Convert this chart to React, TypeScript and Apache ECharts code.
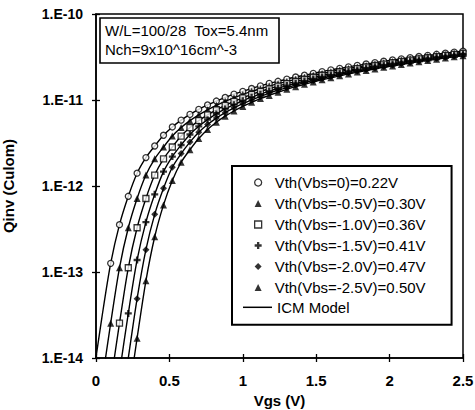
import { useEffect, useRef } from "react";
import * as echarts from "echarts";

// Inversion charge, in units of 1e-12 C
const UNIT = 1e-12;
const vgs = [-0.08, -0.02, 0.04, 0.10, 0.16, 0.22, 0.28, 0.34, 0.40, 0.46, 0.52, 0.58, 0.64, 0.70, 0.76, 0.82, 0.88, 0.94, 1.00, 1.06, 1.12, 1.18, 1.24, 1.30, 1.36, 1.42, 1.48, 1.54, 1.60, 1.66, 1.72, 1.78, 1.84, 1.90, 1.96, 2.02, 2.08, 2.14, 2.20, 2.26, 2.32, 2.38, 2.44, 2.50];
const q0 = [null, 0.0059, 0.0295, 0.126, 0.355, 0.759, 1.41, 2.14, 2.92, 3.89, 4.86, 5.83, 6.80, 7.78, 8.75, 9.72, 10.7, 11.7, 12.6, 13.6, 14.6, 15.6, 16.5, 17.5, 18.5, 19.4, 20.4, 21.4, 22.4, 23.3, 24.3, 25.3, 26.2, 27.2, 28.2, 29.2, 30.1, 31.1, 32.1, 33.0, 34.0, 35.0, 36.0, 36.9];
const q05 = [null, null, 0.0051, 0.0254, 0.112, 0.327, 0.716, 1.34, 2.07, 2.84, 3.81, 4.78, 5.75, 6.72, 7.70, 8.67, 9.64, 10.6, 11.6, 12.6, 13.5, 14.5, 15.5, 16.4, 17.4, 18.4, 19.4, 20.3, 21.3, 22.3, 23.2, 24.2, 25.2, 26.2, 27.1, 28.1, 29.1, 30.1, 31.0, 32.0, 33.0, 33.9, 34.9, 35.9];
const q10 = [null, null, null, 0.0051, 0.0254, 0.112, 0.327, 0.716, 1.34, 2.07, 2.84, 3.81, 4.78, 5.75, 6.72, 7.70, 8.67, 9.64, 10.6, 11.6, 12.6, 13.5, 14.5, 15.5, 16.4, 17.4, 18.4, 19.4, 20.3, 21.3, 22.3, 23.2, 24.2, 25.2, 26.2, 27.1, 28.1, 29.1, 30.1, 31.0, 32.0, 33.0, 33.9, 34.9];
const q15 = [null, null, null, null, 0.0067, 0.033, 0.138, 0.380, 0.80, 1.47, 2.20, 3.00, 3.97, 4.94, 5.91, 6.89, 7.86, 8.83, 9.80, 10.8, 11.7, 12.7, 13.7, 14.7, 15.6, 16.6, 17.6, 18.5, 19.5, 20.5, 21.5, 22.4, 23.4, 24.4, 25.4, 26.3, 27.3, 28.3, 29.2, 30.2, 31.2, 32.2, 33.1, 34.1];
const q20 = [null, null, null, null, 0.0020, 0.0100, 0.049, 0.182, 0.468, 0.94, 1.65, 2.38, 3.24, 4.21, 5.18, 6.16, 7.13, 8.10, 9.07, 10.0, 11.0, 12.0, 13.0, 13.9, 14.9, 15.9, 16.8, 17.8, 18.8, 19.8, 20.7, 21.7, 22.7, 23.7, 24.6, 25.6, 26.6, 27.5, 28.5, 29.5, 30.5, 31.4, 32.4, 33.4];
const q25 = [null, null, null, null, null, 0.0034, 0.017, 0.079, 0.257, 0.603, 1.16, 1.89, 2.64, 3.56, 4.54, 5.51, 6.48, 7.45, 8.42, 9.40, 10.4, 11.3, 12.3, 13.3, 14.3, 15.2, 16.2, 17.2, 18.1, 19.1, 20.1, 21.1, 22.0, 23.0, 24.0, 24.9, 25.9, 26.9, 27.9, 28.8, 29.8, 30.8, 31.8, 32.7];

const seriesNames = [
  "Vth(Vbs=0)=0.22V",
  "Vth(Vbs=-0.5V)=0.30V",
  "Vth(Vbs=-1.0V)=0.36V",
  "Vth(Vbs=-1.5V)=0.41V",
  "Vth(Vbs=-2.0V)=0.47V",
  "Vth(Vbs=-2.5V)=0.50V",
];
const modelName = "ICM Model";
const allQ = [q0, q05, q10, q15, q20, q25];
const infoLines = ["W/L=100/28  Tox=5.4nm", "Nch=9x10^16cm^-3"];

const FONT = "'Liberation Sans', Arial, sans-serif";
const PLUS = "path://M2,0H4V2H6V4H4V6H2V4H0V2H2Z";
const markerStyles = [
  { symbol: "circle", size: 6, itemStyle: { color: "#fff", borderColor: "#000", borderWidth: 1.3 } },
  { symbol: "triangle", size: 7, itemStyle: { color: "#000" } },
  { symbol: "rect", size: 6, itemStyle: { color: "#fff", borderColor: "#000", borderWidth: 1.3 } },
  { symbol: PLUS, size: 7, itemStyle: { color: "#000" } },
  { symbol: "diamond", size: 7, itemStyle: { color: "#000" } },
  { symbol: "triangle", size: 7, itemStyle: { color: "#000" } },
];

const ROW = 20.8;

export default function App() {
  const ref = useRef<HTMLDivElement>(null);
  useEffect(() => {
    if (!ref.current) return;
    const chart = echarts.init(ref.current, null, { renderer: "svg" });

    const lineSeries = allQ.map((arr) => ({
      name: modelName,
      type: "line",
      smooth: 0.3,
      symbol: "none",
      clip: true,
      lineStyle: { color: "#000", width: 1.4 },
      itemStyle: { color: "#000" },
      data: vgs
        .map((v, i) => [v, arr[i] == null ? null : (arr[i] as number) * UNIT])
        .filter((p) => p[1] != null),
      z: 2,
    }));
    const scatterSeries = allQ.map((arr, s) => ({
      name: seriesNames[s],
      type: "scatter",
      symbol: markerStyles[s].symbol,
      symbolSize: markerStyles[s].size,
      itemStyle: markerStyles[s].itemStyle,
      clip: true,
      data: vgs
        .map((v, i) => [v, arr[i] == null ? null : (arr[i] as number) * UNIT])
        .filter((p) => p[1] != null && (p[0] as number) >= 0.09 && (p[1] as number) >= 1.2e-14),
      z: 3,
    }));

    const yCommon = {
      type: "log",
      logBase: 10,
      min: 1e-14,
      max: 1e-10,
      splitNumber: 4,
      splitLine: { show: false },
    };
    const xCommon = {
      type: "value",
      min: 0,
      max: 2.5,
      interval: 0.5,
      splitLine: { show: false },
    };

    chart.setOption({
      animation: false,
      backgroundColor: "#fff",
      grid: {
        left: 96,
        right: 12,
        top: 14,
        bottom: 52,
        show: true,
        borderColor: "#000",
        borderWidth: 1.5,
        containLabel: false,
        outerBoundsMode: "none",
      },
      xAxis: [
        {
          ...xCommon,
          position: "bottom",
          name: "Vgs (V)",
          nameLocation: "middle",
          nameGap: 33,
          nameTextStyle: { fontFamily: FONT, fontSize: 15, fontWeight: "bold", color: "#000" },
          axisLine: { lineStyle: { color: "#000", width: 1.5 } },
          axisTick: { inside: false, length: 4, lineStyle: { color: "#000", width: 1.3 } },
          axisLabel: { fontFamily: FONT, fontSize: 15, fontWeight: "bold", color: "#000", margin: 15 },
        },
        {
          ...xCommon,
          position: "bottom",
          axisLine: { show: false },
          axisTick: { inside: true, length: 4, lineStyle: { color: "#000", width: 1.3 } },
          axisLabel: { show: false },
        },
      ],
      yAxis: [
        {
          ...yCommon,
          position: "left",
          name: "Qinv (Culom)",
          nameLocation: "middle",
          nameGap: 80,
          nameTextStyle: { fontFamily: FONT, fontSize: 15, fontWeight: "bold", color: "#000" },
          axisLine: { lineStyle: { color: "#000", width: 1.5 } },
          axisTick: { inside: false, length: 4, lineStyle: { color: "#000", width: 1.3 } },
          axisLabel: {
            fontFamily: FONT,
            fontSize: 14,
            fontWeight: "bold",
            color: "#000",
            margin: 13,
            formatter: (v: number) => "1.E" + Math.round(Math.log10(v)),
          },
        },
        {
          ...yCommon,
          position: "left",
          axisLine: { show: false },
          axisTick: { inside: true, length: 4, lineStyle: { color: "#000", width: 1.3 } },
          axisLabel: { show: false },
        },
      ],
      legend: [
        {
          orient: "vertical",
          left: 232,
          top: 166,
          padding: [9, 26, 9 + ROW, 22],
          itemWidth: 7,
          itemHeight: 7,
          itemGap: 6,
          borderColor: "#000",
          borderWidth: 2,
          backgroundColor: "#fff",
          selectedMode: false,
          textStyle: { fontFamily: FONT, fontSize: 15, color: "#000", padding: [0, 0, 0, 8] },
          data: seriesNames.map((n, s) => ({
            name: n,
            icon: markerStyles[s].symbol,
            itemStyle: markerStyles[s].itemStyle,
          })),
          z: 5,
        },
        {
          orient: "vertical",
          left: 243,
          top: 166 + 9 + 6 * ROW,
          padding: 0,
          itemWidth: 29,
          itemHeight: 8,
          selectedMode: false,
          textStyle: { fontFamily: FONT, fontSize: 15, color: "#000", padding: [0, 0, 0, 0] },
          data: [{ name: modelName, icon: "path://M0,0H29V1.5H0Z", itemStyle: { color: "#000" } }],
          z: 6,
        },
      ],
      graphic: [
        {
          type: "rect",
          shape: { x: 100, y: 18, width: 179, height: 45 },
          style: { fill: "#fff", stroke: "#000", lineWidth: 1.6 },
          z: 10,
        },
        {
          type: "text",
          x: 105,
          y: 23,
          style: { text: infoLines[0], font: `15px ${FONT}`, fill: "#000" },
          z: 11,
        },
        {
          type: "text",
          x: 105,
          y: 42,
          style: { text: infoLines[1], font: `15px ${FONT}`, fill: "#000" },
          z: 11,
        },
      ],
      series: [...lineSeries, ...scatterSeries],
    });
    return () => chart.dispose();
  }, []);
  return (
    <div
      ref={ref}
      style={{ position: "absolute", left: 0, top: 0, width: 475, height: 410, background: "#fff" }}
    />
  );
}
